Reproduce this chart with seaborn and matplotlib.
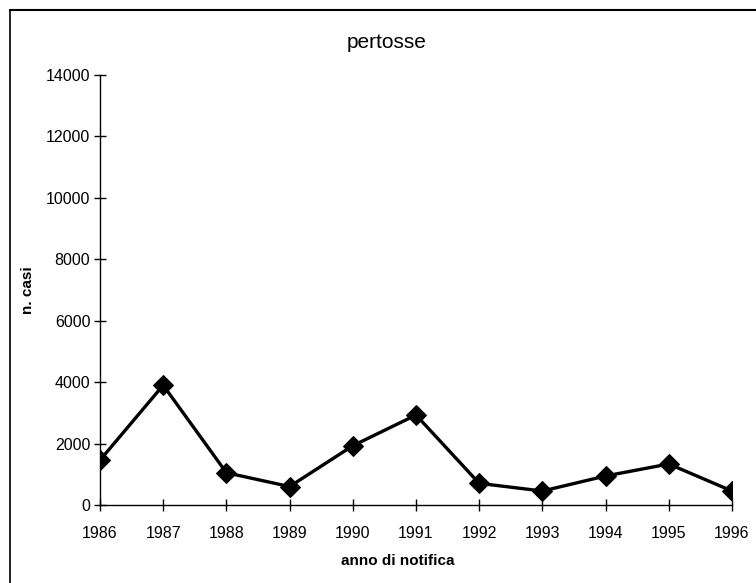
import pandas as pd
import numpy as np
import matplotlib
matplotlib.use("Agg")
import matplotlib.pyplot as plt
from matplotlib.lines import Line2D
import seaborn as sns

# casi di pertosse notificati per anno
years = [1986, 1987, 1988, 1989, 1990, 1991, 1992, 1993, 1994, 1995, 1996]
cases = [1460, 3900, 1050, 600, 1930, 2930, 705, 455, 945, 1335, 455]
y_ticks = [0, 2000, 4000, 6000, 8000, 10000, 12000, 14000]

df = pd.DataFrame({"anno": years, "casi": cases})

sns.set_style("white")
plt.rcParams['font.family'] = ['Liberation Sans', 'DejaVu Sans']
plt.rcParams['text.color'] = 'black'
plt.rcParams['axes.labelcolor'] = 'black'

fig = plt.figure(figsize=(7.56, 5.83), dpi=100)
ax = fig.add_axes([100 / 756, 78 / 583, 632 / 756, 430 / 583])

sns.lineplot(data=df, x="anno", y="casi", ax=ax, color="black", linewidth=2.4,
             marker="D", markersize=10, markeredgecolor="black", markerfacecolor="black")

ax.set_xlim(years[0], years[-1])
ax.set_ylim(y_ticks[0], y_ticks[-1])
ax.set_xticks(years)
ax.set_yticks(y_ticks)
ax.tick_params(axis="both", direction="inout", length=8, width=1, colors="black",
               labelsize=11.5, bottom=True, left=True)
ax.tick_params(axis="y", pad=3)
ax.tick_params(axis="x", pad=11)

for s in ["top", "right"]:
    ax.spines[s].set_visible(False)
for s in ["left", "bottom"]:
    ax.spines[s].set_color("black")
    ax.spines[s].set_linewidth(1)

ax.set_xlabel("anno di notifica", fontsize=11, fontweight="bold")
ax.xaxis.set_label_coords((398 - 100) / 632, -0.115)
ax.set_ylabel("n. casi", fontsize=11, fontweight="bold")
ax.yaxis.set_label_coords(-(100 - 35) / 632, 0.5)

fig.text(387 / 756, 1 - 42 / 583, "pertosse", fontsize=15, ha="center", va="center")

# cornice della pagina
fig.add_artist(Line2D([10 / 756, 10 / 756], [0, 1 - 10 / 583], color="black", lw=1.2,
                      transform=fig.transFigure))
fig.add_artist(Line2D([10 / 756, 1], [1 - 10 / 583, 1 - 10 / 583], color="black", lw=1.5,
                      transform=fig.transFigure))

fig.savefig("out.png", dpi=100, facecolor="white")
